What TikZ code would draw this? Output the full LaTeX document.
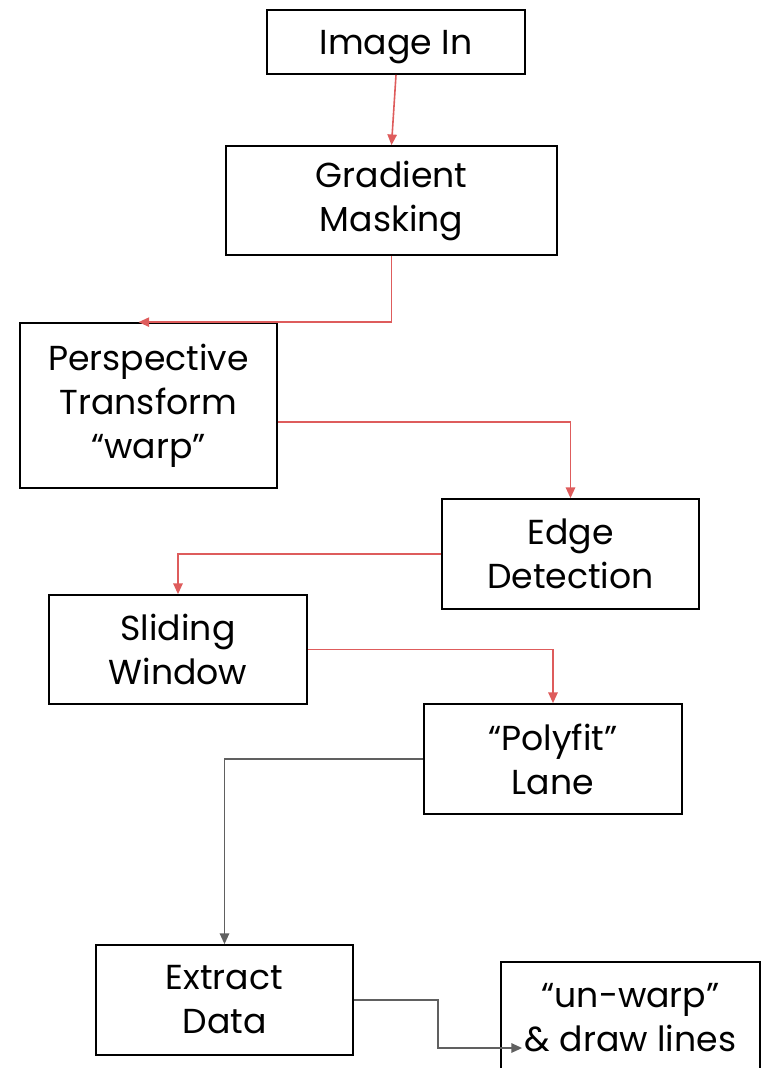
\documentclass[tikz,border=0pt]{standalone}
\usepackage{fontspec}
\setmainfont{Poppins}
\usetikzlibrary{arrows.meta,calc}
\definecolor{redarrow}{RGB}{222,92,92}
\definecolor{grayarrow}{RGB}{96,96,96}
\begin{document}
\begin{tikzpicture}[x=0.75pt,y=-0.75pt,
  box/.style={draw=black,line width=1.3pt,align=center,inner sep=0pt,
    font=\fontsize{26}{33}\selectfont},
  redline/.style={draw=redarrow,line width=1.2pt,-{Triangle[length=8pt,width=7pt]}},
  grayline/.style={draw=grayarrow,line width=1.2pt,-{Triangle[length=8pt,width=7pt]}}]
\clip (0,0) rectangle (774,1068);
\node[box,minimum width=258*0.75pt,minimum height=64*0.75pt,text depth=0pt] (img) at (396,42) {Image In};
\node[box,minimum width=331*0.75pt,minimum height=109*0.75pt] (grad) at (391.5,200.5) {Gradient\\Masking};
\node[box,minimum width=257*0.75pt,minimum height=165*0.75pt] (persp) at (148.5,405.5) {Perspective\\Transform\\“warp”};
\node[box,minimum width=257*0.75pt,minimum height=110*0.75pt] (edge) at (570.5,554) {Edge\\Detection};
\node[box,minimum width=258*0.75pt,minimum height=109*0.75pt] (slide) at (178,649.5) {Sliding\\Window};
\node[box,minimum width=258*0.75pt,minimum height=110*0.75pt] (poly) at (553,759) {“Polyfit”\\Lane};
\node[box,minimum width=257*0.75pt,minimum height=110*0.75pt] (extract) at (224.5,1000) {Extract\\Data};
\node[box,minimum width=259*0.75pt,minimum height=112*0.75pt] (unwarp) at (630.5,1018) {“un-warp”\\\& draw lines};
\draw[redline] (img.south) -- (grad.north);
\draw[redline] (grad.south) |- ([shift={(-10,0)}]persp.north);
\draw[redline] ([shift={(0,16.5)}]persp.east) -| (edge.north);
\draw[redline] (edge.west) -| (slide.north);
\draw[redline] (slide.east) -| (poly.north);
\draw[grayline] (poly.west) -| (extract.north);
\coordinate (mid) at ($(extract.east)+(84,0)$);
\coordinate (tip) at ([shift={(22,30)}]unwarp.west);
\draw[grayline] (extract.east) -| (mid |- tip) -- (tip);
\end{tikzpicture}
\end{document}
